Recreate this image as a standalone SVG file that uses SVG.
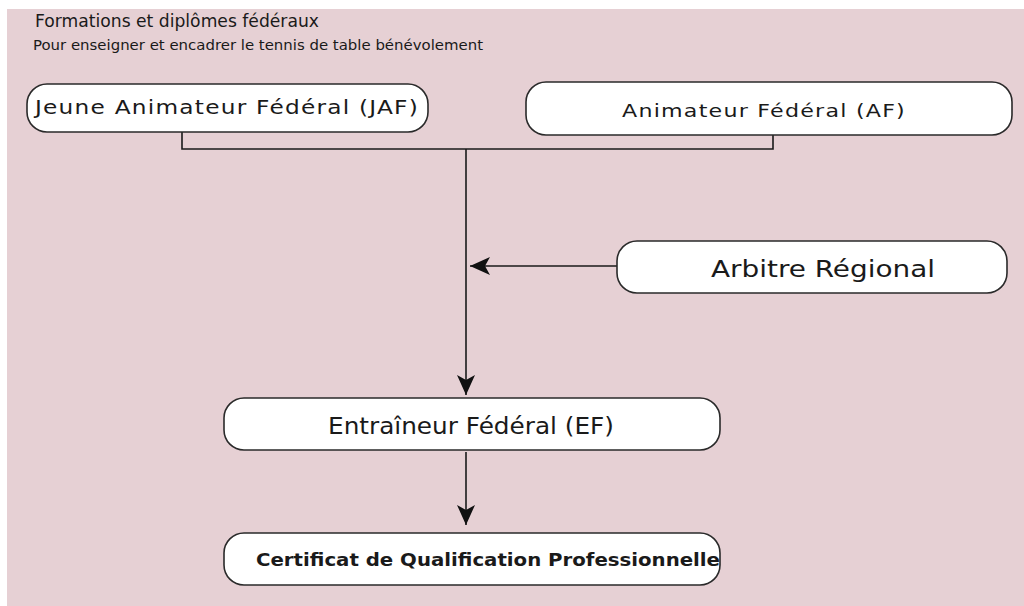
<svg xmlns="http://www.w3.org/2000/svg" width="1024" height="606" viewBox="0 0 1024 606">
<style>
.node rect{fill:#ffffff;stroke:#2a2a2a;stroke-width:1.6}
.v{font-family:"DejaVu Sans",Verdana,sans-serif;fill:#1a1a1a}
.conn{fill:none;stroke:#1a1a1a;stroke-width:1.6}
</style>
<defs>
<marker id="arr" viewBox="0 0 20 18" refX="20" refY="9" markerWidth="20" markerHeight="18" markerUnits="userSpaceOnUse" orient="auto">
<path d="M0,0 L20,9 L0,18 L5,9 Z" fill="#111"/>
</marker>
</defs>
<rect x="0" y="0" width="1024" height="606" fill="#ffffff"/>
<rect x="7" y="9" width="1017" height="597" fill="#e6d0d4"/>
<g id="title">
<text class="v" x="35" y="27" style="font-size:17px" textLength="284" lengthAdjust="spacingAndGlyphs">Formations et diplômes fédéraux</text>
<text class="v" x="33" y="50" style="font-size:14px" textLength="450" lengthAdjust="spacingAndGlyphs">Pour enseigner et encadrer le tennis de table bénévolement</text>
</g>
<g id="connectors">
<path class="conn" d="M182,132 V149 H773 V135"/>
<path class="conn" d="M466,149 V395" marker-end="url(#arr)"/>
<path class="conn" d="M617,266 H470" marker-end="url(#arr)"/>
<path class="conn" d="M466,452 V525" marker-end="url(#arr)"/>
</g>
<g id="node-jaf" class="node">
<rect x="27" y="84" width="401" height="48" rx="20"/>
<text class="v" x="35" y="114" style="font-size:19px;letter-spacing:1px" textLength="384" lengthAdjust="spacingAndGlyphs">Jeune Animateur Fédéral (JAF)</text>
</g>
<g id="node-af" class="node">
<rect x="526" y="82" width="486" height="53" rx="20"/>
<text class="v" x="622" y="117" style="font-size:18px;letter-spacing:1px" textLength="284" lengthAdjust="spacingAndGlyphs">Animateur Fédéral (AF)</text>
</g>
<g id="node-ar" class="node">
<rect x="617" y="241" width="390" height="52" rx="20"/>
<text class="v" x="711" y="277" style="font-size:23px" textLength="224" lengthAdjust="spacingAndGlyphs">Arbitre Régional</text>
</g>
<g id="node-ef" class="node">
<rect x="224" y="398" width="496" height="52" rx="20"/>
<text class="v" x="328" y="434" style="font-size:23px" textLength="286" lengthAdjust="spacingAndGlyphs">Entraîneur Fédéral (EF)</text>
</g>
<g id="node-cqp" class="node">
<rect x="224" y="533" width="496" height="52" rx="20"/>
<text class="v" x="256" y="566" style="font-size:18px;font-weight:bold" textLength="464" lengthAdjust="spacingAndGlyphs">Certificat de Qualification Professionnelle</text>
</g>
</svg>
